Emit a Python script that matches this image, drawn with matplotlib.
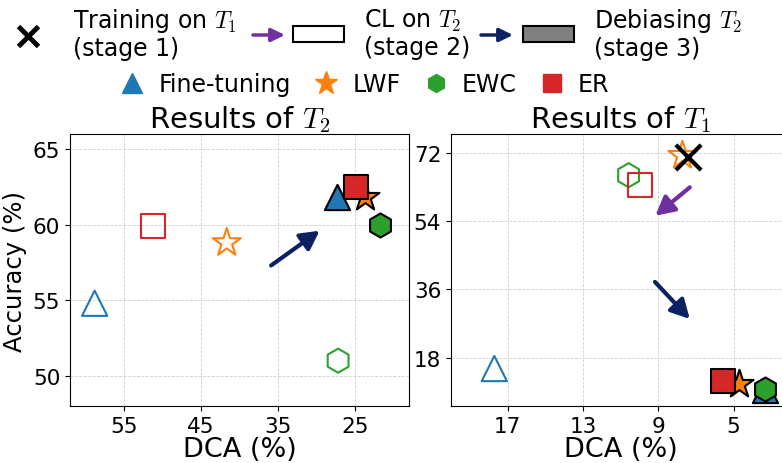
import matplotlib
matplotlib.use("Agg")
import matplotlib.pyplot as plt
from matplotlib.lines import Line2D
from matplotlib.patches import Rectangle, FancyArrowPatch

plt.rcParams['mathtext.fontset'] = 'cm'

methods = ["Fine-tuning", "LWF", "EWC", "ER"]
colors = ["#1f77b4", "#ff7f0e", "#2ca02c", "#d62728"]
markers = ["^", "*", "h", "s"]
sizes = [330, 450, 300, 300]

# results of T2: (DCA, accuracy)
t2_cl_dca = [58.8, 41.65, 27.2, 51.2]
t2_cl_acc = [54.8, 58.8, 51.0, 59.9]
t2_deb_dca = [27.4, 23.7, 21.7, 24.9]
t2_deb_acc = [61.8, 61.8, 60.0, 62.5]

# results of T1
t1_train = (7.44, 70.9)
t1_cl_dca = [17.7, 7.71, 10.57, 9.96]
t1_cl_acc = [15.1, 71.4, 66.2, 63.6]
t1_deb_dca = [3.35, 4.71, 3.35, 5.56]
t1_deb_acc = [9.3, 11.0, 9.8, 11.8]

navy = "#0b2161"
purple = "#7030a0"

fig = plt.figure(figsize=(7.82, 4.64), dpi=100)
ax1 = fig.add_axes([70/782, 57/464, 339/782, 272/464])
ax2 = fig.add_axes([451/782, 57/464, 339/782, 272/464])


def draw(ax, cl_x, cl_y, deb_x, deb_y):
    for i in range(4):
        ax.scatter(cl_x[i], cl_y[i], s=sizes[i], marker=markers[i],
                   facecolors="none", edgecolors=colors[i], linewidths=1.5, zorder=3)
    for i in range(4):
        ax.scatter(deb_x[i], deb_y[i], s=sizes[i], marker=markers[i],
                   facecolors=colors[i], edgecolors="black", linewidths=1.5, zorder=4)
    ax.grid(True, linestyle="--", linewidth=0.6, color="#c4c4c4", alpha=0.8)
    ax.set_axisbelow(True)
    ax.tick_params(labelsize=15.5, length=3.5)
    ax.set_xlabel("DCA (%)", fontsize=19.5, labelpad=0)


def arrow(ax, start, end, color):
    ax.annotate("", xy=end, xytext=start,
                arrowprops=dict(arrowstyle="-|>,head_length=0.45,head_width=0.24",
                                color=color, lw=3, mutation_scale=25,
                                shrinkA=0, shrinkB=0), zorder=5)


draw(ax1, t2_cl_dca, t2_cl_acc, t2_deb_dca, t2_deb_acc)
arrow(ax1, (35.9, 57.3), (29.6, 59.6), navy)
ax1.set_xlim(62, 18)
ax1.set_ylim(48, 66)
ax1.set_xticks([55, 45, 35, 25])
ax1.set_yticks([50, 55, 60, 65])
ax1.set_ylabel("Accuracy (%)", fontsize=17.5)
ax1.set_title("Results of $T_2$", fontsize=21, pad=5)

draw(ax2, t1_cl_dca, t1_cl_acc, t1_deb_dca, t1_deb_acc)
ax2.scatter(*t1_train, s=330, marker="x", color="black", linewidths=3, zorder=5)
arrow(ax2, (7.32, 63.0), (9.15, 55.5), purple)
arrow(ax2, (9.17, 38.0), (7.32, 28.2), navy)
ax2.set_xlim(20, 2)
ax2.set_ylim(5.2, 77.1)
ax2.set_xticks([17, 13, 9, 5])
ax2.set_yticks([18, 36, 54, 72])
ax2.set_title("Results of $T_1$", fontsize=21, pad=5)

# top row: stages
W, H = 782, 464
fig.add_artist(Line2D([28/W], [1-37/H], marker="x", ms=14, mew=3.5,
                      color="black", transform=fig.transFigure))
stage_text = ["Training on $T_1$\n(stage 1)", "CL on $T_2$\n(stage 2)",
              "Debiasing $T_2$\n(stage 3)"]
for x, s in zip([73, 364, 594], stage_text):
    fig.text(x/W, 1-34/H, s, fontsize=17, va="center", ha="left", linespacing=1.1)
for (x0, x1), c in zip([(253, 285), (481, 513)], [purple, navy]):
    fig.add_artist(FancyArrowPatch((x0/W, 1-36/H), (x1/W, 1-36/H),
                                   transform=fig.transFigure,
                                   arrowstyle="-|>,head_length=0.45,head_width=0.22",
                                   mutation_scale=18, lw=2.5, color=c,
                                   shrinkA=0, shrinkB=0))
for x, fc in zip([293, 523], ["white", "gray"]):
    fig.add_artist(Rectangle((x/W, 1-43/H), 51/W, 16/H, transform=fig.transFigure,
                             facecolor=fc, edgecolor="black", lw=1.5))

handles = [Line2D([], [], marker=m, color=c, linestyle="none", ms=ms)
           for m, c, ms in zip(markers, colors, [14, 17, 13, 13])]
fig.legend(handles, methods, loc="center", bbox_to_anchor=(365/W, 1-85/H),
           ncol=4, frameon=False, fontsize=17, handlelength=1,
           handletextpad=0.6, columnspacing=1.0)

fig.savefig("out.png", dpi=100)
